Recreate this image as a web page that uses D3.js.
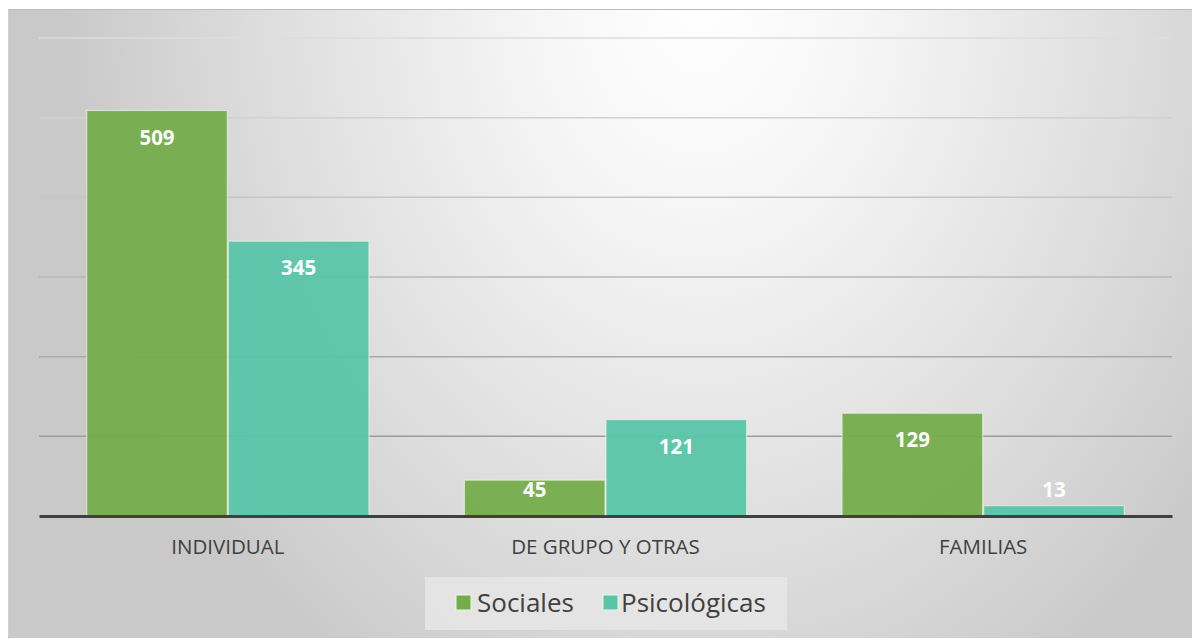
<!DOCTYPE html>
<html><head><meta charset="utf-8">
<script src="https://cdn.jsdelivr.net/npm/d3@7"></script>
<style>html,body{margin:0;padding:0;background:#fff;}svg{display:block;}</style>
</head><body>
<svg id="c" width="1192" height="639"></svg>
<script>
const categories = ["INDIVIDUAL", "DE GRUPO Y OTRAS", "FAMILIAS"];
const seriesNames = ["Sociales", "Psicológicas"];
const sociales = [509, 45, 129];
const psicologicas = [345, 121, 13];
const yTicks = [0, 100, 200, 300, 400, 500, 600];
const colors = ["#74ac4c", "#58c5a9"];

const svg = d3.select("#c");
const defs = svg.append("defs");
const bg = defs.append("radialGradient").attr("id","bg")
  .attr("gradientUnits","userSpaceOnUse")
  .attr("cx",0).attr("cy",0).attr("r",1)
  .attr("gradientTransform","translate(700,0) scale(640,820)");
[[0,"#ffffff"],[0.25,"#f6f6f6"],[0.7,"#dcdcdc"],[1,"#c9c9c9"]].forEach(s=>bg.append("stop").attr("offset",s[0]).attr("stop-color",s[1]));

const gl = defs.append("linearGradient").attr("id","gl")
  .attr("gradientUnits","userSpaceOnUse").attr("x1",0).attr("y1",30).attr("x2",0).attr("y2",520);
[[0,"#dedede"],[0.35,"#c4c4c4"],[1,"#8e8e8e"]].forEach(s=>gl.append("stop").attr("offset",s[0]).attr("stop-color",s[1]));

svg.append("rect").attr("x",8).attr("y",9).attr("width",1184).attr("height",629).attr("fill","url(#bg)");
svg.append("line").attr("x1",8).attr("x2",1192).attr("y1",9.5).attr("y2",9.5).attr("stroke","#bdbdbd").attr("stroke-width",1);
svg.append("line").attr("x1",8.5).attr("x2",8.5).attr("y1",9).attr("y2",639).attr("stroke","#cfcfcf").attr("stroke-width",1);

const plot = {l:39, r:1172, t:38, b:516};
const x0 = d3.scaleBand().domain(categories).range([plot.l, plot.r]).paddingInner(0.25).paddingOuter(0.125);
const x1 = d3.scaleBand().domain(seriesNames).range([0, x0.bandwidth()]);
const y = d3.scaleLinear().domain([0, 600]).range([plot.b, plot.t]);

svg.append("g").selectAll("line").data(yTicks.filter(t=>t>0)).join("line")
  .attr("x1",plot.l).attr("x2",plot.r)
  .attr("y1",d=>y(d)).attr("y2",d=>y(d))
  .attr("stroke","url(#gl)").attr("stroke-width",1.5);

const data = categories.map((c,i)=>({cat:c, vals:[sociales[i], psicologicas[i]]}));
const groups = svg.append("g").selectAll("g").data(data).join("g")
  .attr("transform",d=>`translate(${x0(d.cat)},0)`);
groups.selectAll("rect").data(d=>d.vals.map((v,j)=>({v, s:seriesNames[j], j}))).join("rect")
  .attr("x",d=>x1(d.s)+0.5).attr("width",x1.bandwidth()-1)
  .attr("y",d=>y(d.v)).attr("height",d=>y(0)-y(d.v))
  .attr("fill",d=>colors[d.j]).attr("fill-opacity",0.95)
  .attr("stroke","#e9f3e4").attr("stroke-opacity",0.7).attr("stroke-width",1.2);
groups.selectAll("text").data(d=>d.vals.map((v,j)=>({v, s:seriesNames[j], j}))).join("text")
  .attr("x",d=>x1(d.s)+x1.bandwidth()/2)
  .attr("y",d=>Math.min(y(d.v)+27, y(0)-26))
  .attr("dy","0.35em")
  .attr("text-anchor","middle")
  .attr("font-family","'Open Sans', sans-serif").attr("font-weight",700).attr("font-size",20.5)
  .attr("fill","#ffffff").text(d=>d.v);

const xAxis = d3.axisBottom(x0).tickSize(0).tickPadding(0);
const ax = svg.append("g").attr("transform",`translate(0,${y(0)})`).call(xAxis);
ax.select(".domain").attr("stroke","#404040").attr("stroke-width",3);
ax.selectAll("text").attr("y",31).attr("dy","0.35em")
  .attr("font-family","'Open Sans', sans-serif").attr("font-size",20.5).attr("fill","#404040");

const lg = svg.append("g");
lg.append("rect").attr("x",425).attr("y",577).attr("width",362).attr("height",53).attr("fill","#e6e6e6").attr("fill-opacity",0.85);
const legItems = [{n:seriesNames[0], x:456, tx:477},{n:seriesNames[1], x:603, tx:621}];
legItems.forEach((it,i)=>{
  lg.append("rect").attr("x",it.x).attr("y",595).attr("width",15).attr("height",15)
    .attr("fill",colors[i]).attr("stroke","#e9f3e4").attr("stroke-width",1);
  lg.append("text").attr("x",it.tx).attr("y",603).attr("dy","0.35em")
    .attr("font-family","'Open Sans', sans-serif").attr("font-size",26).attr("fill","#404040").text(it.n);
});
</script>
</body></html>
